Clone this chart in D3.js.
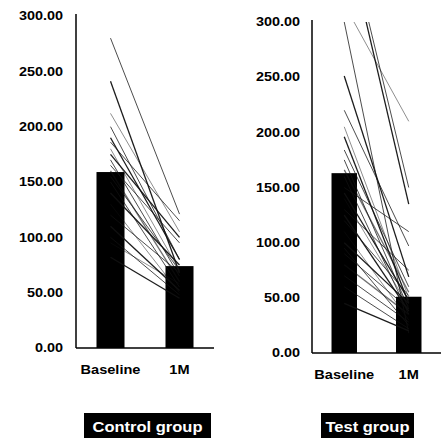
<!DOCTYPE html>
<html><head><meta charset="utf-8">
<script src="https://cdn.jsdelivr.net/npm/d3@7"></script>
<style>body{margin:0;background:#fff}svg{display:block}</style>
</head><body>
<svg id="c" width="447" height="438"></svg>
<script>
const categories = ["Baseline", "1M"];
const yTicks = [0, 50, 100, 150, 200, 250, 300];
const groupNames = ["Control group", "Test group"];

const controlMeans = [159, 74];
const testMeans = [163, 51];

const controlBaseline = [280, 241, 212, 200, 190, 186, 180, 175, 170, 165, 160, 155, 150, 140, 130, 120, 110, 100, 95, 82];
const controlMonth1   = [121, 68, 105, 80, 80, 115, 70, 100, 65, 95, 60, 70, 55, 75, 50, 68, 52, 48, 58, 45];

const testBaseline = [392, 385, 316, 300, 251, 220, 205, 196, 184, 175, 166, 160, 150, 145, 140, 130, 125, 120, 110, 100, 95, 90, 80, 70, 60, 45];
const testMonth1   = [150, 135, 210, 18, 69, 97, 50, 45, 60, 40, 55, 35, 110, 48, 42, 75, 38, 52, 30, 45, 25, 40, 35, 28, 22, 20];

const svg = d3.select("#c");
const FONT = "'Liberation Sans', Arial, sans-serif";

function widen(sel, f) {
  sel.each(function () {
    const L = this.getComputedTextLength();
    d3.select(this).attr("textLength", L * f).attr("lengthAdjust", "spacingAndGlyphs");
  });
}

function panel(cfg, means, base, m1, name, id) {
  const x = d3.scaleBand().domain(categories).range([cfg.x0, cfg.x1])
    .paddingInner(cfg.pi).paddingOuter(cfg.pi / 2);
  const y = d3.scaleLinear().domain([0, 300]).range([cfg.yb, cfg.yt]);
  const g = svg.append("g");

  g.append("clipPath").attr("id", "clip" + id).append("rect")
    .attr("x", cfg.x0).attr("y", y(300)).attr("width", cfg.x1 - cfg.x0).attr("height", y(0) - y(300));

  g.selectAll("rect.bar").data(means).join("rect").attr("class", "bar")
    .attr("x", (d, i) => x(categories[i])).attr("width", x.bandwidth())
    .attr("y", d => y(d)).attr("height", d => y(0) - y(d)).attr("fill", "#000");

  const cx0 = x(categories[0]) + x.bandwidth() / 2;
  const cx1 = x(categories[1]) + x.bandwidth() / 2;
  g.append("g").attr("clip-path", `url(#clip${id})`)
    .selectAll("line").data(base.map((b, i) => [b, m1[i]])).join("line")
    .attr("x1", cx0).attr("y1", d => y(d[0]))
    .attr("x2", cx1).attr("y2", d => y(d[1]))
    .attr("stroke", "#111").attr("stroke-width", (d, i) => i % 3 === 1 ? 1.3 : 0.8)
    .attr("stroke-opacity", (d, i) => i % 4 === 2 ? 0.6 : 0.95);

  g.append("line").attr("x1", cfg.x0).attr("x2", cfg.x0).attr("y1", cfg.yt - 2).attr("y2", y(0))
    .attr("stroke", "#000").attr("stroke-width", 1.5);
  g.append("line").attr("x1", cfg.x0).attr("x2", cfg.x1).attr("y1", y(0)).attr("y2", y(0))
    .attr("stroke", "#000").attr("stroke-width", 1.5);

  const ticks = g.selectAll("text.tick").data(yTicks).join("text").attr("class", "tick")
    .attr("x", cfg.lx).attr("y", d => y(d)).attr("dy", "0.36em")
    .attr("text-anchor", "end").attr("font-family", FONT).attr("font-weight", "bold")
    .attr("font-size", 12).text(d => d3.format(".2f")(d));
  widen(ticks, 1.2);

  const cats = g.selectAll("text.cat").data(categories).join("text").attr("class", "cat")
    .attr("x", d => x(d) + x.bandwidth() / 2).attr("y", y(0) + 26)
    .attr("text-anchor", "middle").attr("font-family", FONT).attr("font-weight", "bold")
    .attr("font-size", 13).text(d => d);
  widen(cats, 1.12);

  const tg = g.append("g");
  tg.append("rect").attr("x", cfg.bx0).attr("y", 413)
    .attr("width", cfg.bx1 - cfg.bx0).attr("height", 26).attr("fill", "#000");
  const t = tg.append("text").attr("x", (cfg.bx0 + cfg.bx1) / 2).attr("y", 432)
    .attr("text-anchor", "middle").attr("font-family", FONT).attr("font-weight", "bold")
    .attr("font-size", 15).attr("fill", "#fff").text(name);
  widen(t, 1.1);
}

panel({x0: 76, x1: 214, pi: 0.594, yb: 348, yt: 16, lx: 63, bx0: 84, bx1: 211},
      controlMeans, controlBaseline, controlMonth1, groupNames[0], 0);
panel({x0: 312, x1: 441, pi: 0.605, yb: 353, yt: 22, lx: 300, bx0: 321, bx1: 414},
      testMeans, testBaseline, testMonth1, groupNames[1], 1);
</script>
</body></html>
